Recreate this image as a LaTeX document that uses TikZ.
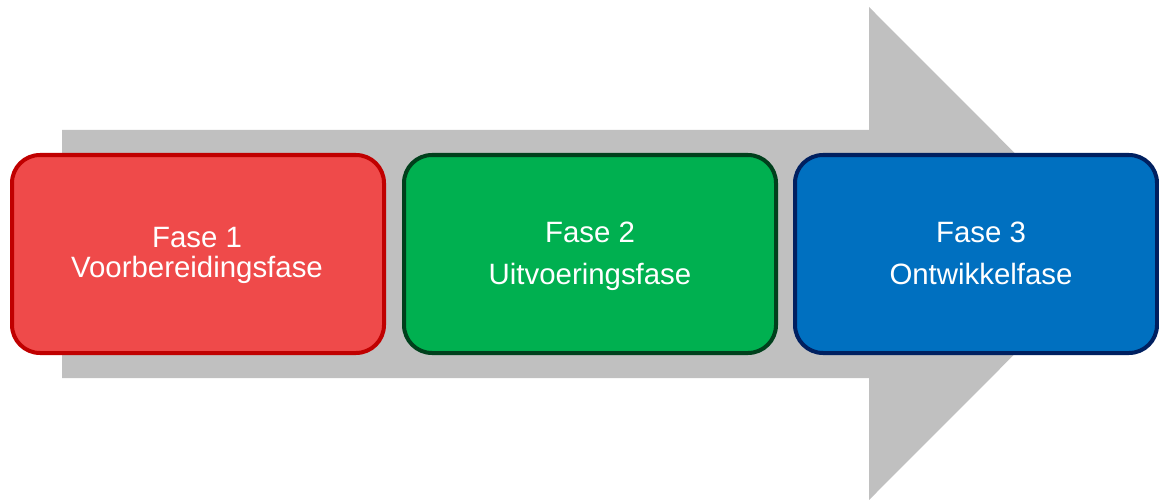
\documentclass[tikz,border=0pt]{standalone}
\usepackage{fontspec}
\setmainfont{Liberation Sans}
\definecolor{arrowgray}{HTML}{C0C0C0}
\definecolor{redfill}{HTML}{EF4A4A}
\definecolor{redline}{HTML}{C00000}
\definecolor{greenfill}{HTML}{00B050}
\definecolor{greenline}{HTML}{00401C}
\definecolor{bluefill}{HTML}{0070C0}
\definecolor{blueline}{HTML}{002060}
\begin{document}
\begin{tikzpicture}[x=1pt,y=-1pt,
  phase/.style={line width=4pt,rounded corners=28pt},
  lbl/.style={text=white,anchor=base,inner sep=0pt,font=\fontsize{29.4}{31}\selectfont}]
\useasboundingbox (0,0) rectangle (1159,500);
\fill[arrowgray] (62,130) -- (869,130) -- (869,7) -- (1115,253.5) -- (869,500) -- (869,378) -- (62,378) -- cycle;
\draw[phase,fill=redfill,draw=redline] (12,155) rectangle (384,353);
\draw[phase,fill=greenfill,draw=greenline] (404,155) rectangle (776,353);
\draw[phase,fill=bluefill,draw=blueline] (795,155) rectangle (1157,353);
\node[lbl] (r1) at (197,247) {Fase 1};
\node[lbl] (r2) at (197,277) {Voorbereidingsfase};
\node[lbl] (g1) at (590,242) {Fase 2};
\node[lbl] (g2) at (590,284) {Uitvoeringsfase};
\node[lbl] (b1) at (981,242) {Fase 3};
\node[lbl] (b2) at (981,284) {Ontwikkelfase};
\end{tikzpicture}
\end{document}
